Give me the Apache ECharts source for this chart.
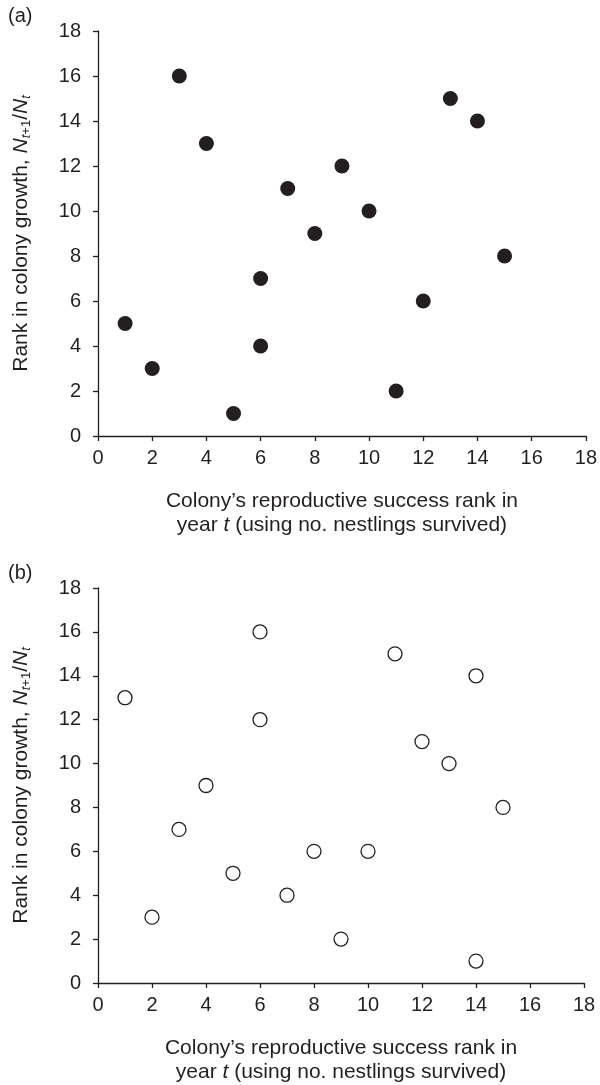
<!DOCTYPE html>
<html>
<head>
<meta charset="utf-8">
<script src="https://cdn.jsdelivr.net/npm/echarts@6/dist/echarts.min.js"></script>
<style>
  html, body { margin: 0; padding: 0; background: #ffffff; }
  #chart { width: 600px; height: 1085px; }
</style>
</head>
<body>
<div id="chart"></div>
<script>
// Panel (a): filled circles
const aX = [1, 2, 3, 4, 5, 6, 6, 7, 8, 9, 10, 11, 12, 13, 14, 15];
const aY = [5, 3, 16, 13, 1, 7, 4, 11, 9, 12, 10, 2, 6, 15, 14, 8];
// Panel (b): open circles
const bX = [1, 2, 3, 4, 5, 6, 6, 7, 8, 9, 10, 11, 12, 13, 14, 14, 15];
const bY = [13, 3, 7, 9, 5, 16, 12, 4, 6, 2, 6, 15, 11, 10, 14, 1, 8];
// Axis ticks
const axisMin = 0, axisMax = 18, axisStep = 2;
const panelLabels = ['(a)', '(b)'];
const xTitle = 'Colony\u2019s reproductive success rank in\nyear {i|t} (using no. nestlings survived)';
const yTitle = '{n|Rank in colony growth, }{i|N}{si|t}{s|+1}{n|/}{i|N}{si|t}';

const INK = '#231f20';
const FONT = '"Liberation Sans", Arial, Helvetica, sans-serif';
const TICK_FS = 20;
const TITLE_FS = 21;

function xAxisCfg(gridIndex, gap) {
  return {
    type: 'value', gridIndex, min: axisMin, max: axisMax, interval: axisStep,
    splitLine: { show: false },
    axisLine: { show: true, onZero: false, lineStyle: { color: INK, width: 1.3 } },
    axisTick: { show: true, inside: false, length: 5, lineStyle: { color: INK, width: 1.3 } },
    axisLabel: { color: INK, fontSize: TICK_FS, fontFamily: FONT, margin: 12 },
    name: xTitle, nameLocation: 'middle', nameGap: gap,
    nameTextStyle: {
      color: INK, fontSize: TITLE_FS, fontFamily: FONT, lineHeight: 24,
      rich: { i: { fontStyle: 'italic', fontSize: TITLE_FS, fontFamily: FONT, color: INK, lineHeight: 24 } }
    }
  };
}
function yAxisCfg(gridIndex) {
  return {
    type: 'value', gridIndex, min: axisMin, max: axisMax, interval: axisStep,
    splitLine: { show: false },
    axisLine: { show: true, onZero: false, lineStyle: { color: INK, width: 1.3 } },
    axisTick: { show: true, inside: false, length: 5, lineStyle: { color: INK, width: 1.3 } },
    axisLabel: { color: INK, fontSize: TICK_FS, fontFamily: FONT, margin: 17 },
    name: yTitle, nameLocation: 'middle', nameGap: 65, nameRotate: 90,
    nameTextStyle: {
      color: INK, fontFamily: FONT,
      rich: {
        n: { fontSize: TITLE_FS, fontFamily: FONT, color: INK, lineHeight: 24 },
        i: { fontSize: TITLE_FS, fontFamily: FONT, color: INK, fontStyle: 'italic', lineHeight: 24 },
        si: { fontSize: 13, fontFamily: FONT, color: INK, fontStyle: 'italic', lineHeight: 15, verticalAlign: 'bottom' },
        s: { fontSize: 13, fontFamily: FONT, color: INK, lineHeight: 15, verticalAlign: 'bottom' }
      }
    }
  };
}

const chart = echarts.init(document.getElementById('chart'), null, { renderer: 'canvas' });
chart.setOption({
  backgroundColor: '#ffffff',
  animation: false,
  textStyle: { fontFamily: FONT },
  grid: [
    { left: 98, right: 13, top: 31, height: 405 },
    { left: 98, right: 16, top: 588, height: 395 }
  ],
  xAxis: [xAxisCfg(0, 53), xAxisCfg(1, 53)],
  yAxis: [yAxisCfg(0), yAxisCfg(1)],
  graphic: [
    { type: 'text', left: 8, top: 6, style: { text: panelLabels[0], fill: INK, font: '20px ' + FONT } },
    { type: 'text', left: 8, top: 563, style: { text: panelLabels[1], fill: INK, font: '20px ' + FONT } }
  ],
  series: [
    {
      type: 'scatter', xAxisIndex: 0, yAxisIndex: 0,
      symbol: 'circle', symbolSize: 15,
      itemStyle: { color: INK, opacity: 1 },
      data: aX.map((x, i) => [x, aY[i]])
    },
    {
      type: 'scatter', xAxisIndex: 1, yAxisIndex: 1,
      symbol: 'circle', symbolSize: 14,
      itemStyle: { color: '#ffffff', borderColor: INK, borderWidth: 1.3, opacity: 1 },
      data: bX.map((x, i) => [x, bY[i]])
    }
  ]
});
</script>
</body>
</html>
